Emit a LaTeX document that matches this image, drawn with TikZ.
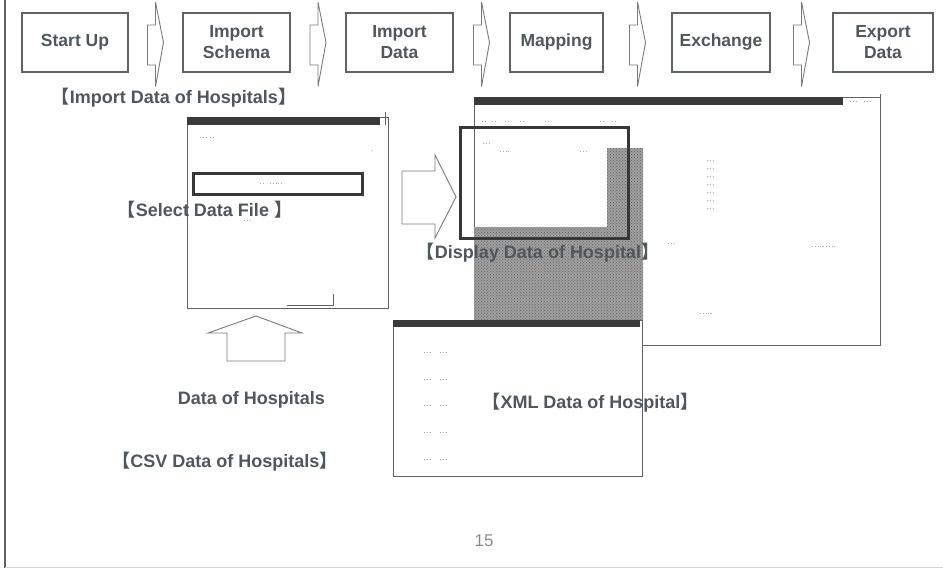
\documentclass[tikz,border=0pt]{standalone}
\usepackage{fontspec}
\setmainfont{Liberation Sans}
\newfontfamily\cjk{Noto Sans CJK JP}
\usetikzlibrary{calc,patterns}
\definecolor{inkGray}{HTML}{4F575C}
\definecolor{lineGray}{HTML}{5E6367}
\definecolor{barGray}{HTML}{3A3A3A}
\newcommand{\lbr}{{\cjk 【}}
\newcommand{\rbr}{{\cjk 】}}
\tikzset{stepBox/.style={
    draw=lineGray,
    line width=1.1,
    minimum height=59,
    align=center,
    text=inkGray,
    font=\fontsize{17.5}{21}\selectfont\bfseries,
    inner sep=2}
}
\tikzset{flowArrow/.style={draw=lineGray!85, line width=0.9, line join=miter}}
\tikzset{labelText/.style={text=inkGray, font=\fontsize{18}{21}\selectfont\bfseries, inner sep=0}}
\tikzset{winBox/.style={draw=lineGray, line width=0.9, fill=white, inner sep=0}}
\tikzset{focusBox/.style={draw=black!78, line width=3}}
\tikzset{smallMark/.style={gray!65, line width=0.9, dash pattern=on 1pt off 1.8pt}}

\begin{document}
\begin{tikzpicture}[x=1pt,y=-1pt]
      \useasboundingbox (0,0) rectangle (943,570);
      % frame of the slide
      \draw[lineGray,line width=2](5,0) -- (5,568);
      \draw[gray!35,line width=1](5,567) -- (943,567);

      % steps
      \node[stepBox,minimum width=106] (startup) at (75,42.5) {Start Up};
      \node[stepBox,minimum width=107] (schema) at (236.5,42.5) {Import\\Schema};
      \node[stepBox,minimum width=107] (impdata) at (399.5,42.5) {Import\\Data};
      \node[stepBox,minimum width=93] (mapping) at (556.5,42.5) {Mapping};
      \node[stepBox,minimum width=98] (exchange) at (721,42.5) {Exchange};
      \node[stepBox,minimum width=100] (export) at (883,42.5) {Export\\Data};

      \foreach \a/\b in {startup/schema,schema/impdata,impdata/mapping,mapping/exchange,exchange/export}
      \draw[flowArrow] ($(\a.east)!0.5!(\b.west)$) ++(-8,-17.5) -- ++(8,0) -- ++(0,-23)
      -- ++(8,40.5) -- ++(-8,44) -- ++(0,-21.5) -- ++(-8,0) -- cycle;

      \node[labelText] (title) at (174,98) {\lbr Import Data of Hospitals\rbr};

      % main window
      \node[winBox,minimum width=406,minimum height=248] (mainwin) at (677,221) {};
      \fill[black!38] (607,148) -- (643,148) -- (643,320) -- (474,320) -- (474,227) -- (607,227) -- cycle;
      \fill[pattern=crosshatch dots,pattern color=black!60] (607,148) -- (643,148) -- (643,320) -- (474,320) -- (474,227) -- (607,227) -- cycle;
      \fill[barGray] (mainwin.north west) rectangle (843,105);
      \draw[lineGray,line width=0.9] (880,94) -- (880,100);
      \draw[smallMark] (850,101) -- ++(6,0) (864,101) -- ++(6,0);
      \foreach \x in {482,492,505,520,545,600,612}
      \draw[smallMark] (\x,121) -- ++(5,0);
      \draw[smallMark] (483,143) -- ++(8,0) (500,151) -- ++(10,0) (580,151) -- ++(8,0);
      \foreach \y in {160,168,176,184,192,200,208}
      \draw[smallMark] (707,\y) -- ++(8,0);
      \draw[smallMark] (668,243) -- ++(8,0) (812,246) -- ++(24,0) (700,313) -- ++(12,0);
      \draw[focusBox] (460,127) rectangle (628,238);

      % dialog
      \node[winBox,minimum width=201,minimum height=191] (dialog) at (287.5,212.5) {};
      \fill[barGray] (dialog.north west) rectangle (380,125);
      \draw[lineGray] (385,112) -- (385,125);
      \draw[smallMark] (200,137) -- ++(6,0) (210,137) -- ++(4,0) (372,150) -- ++(2,0);
      \draw[focusBox] (193,173) rectangle (362,194);
      \draw[smallMark] (260,183) -- ++(4,0) (270,183) -- ++(12,0) (244,220) -- ++(8,0);
      \draw[lineGray,line width=0.8] (287,305) -- (333,305) -- (333,294);

      % xml window
      \node[winBox,minimum width=249,minimum height=156] (xmlwin) at (517.5,398) {};
      \fill[barGray] (xmlwin.north west) rectangle (640,327);
      \foreach \y in {352,379,405,432,459}
      \draw[smallMark] (424,\y) -- ++(6,0) (440,\y) -- ++(8,0);

      % arrows between the pictures
      \draw[flowArrow] (402,171) -- (435,171) -- (435,155) -- (456,197) -- (435,238) -- (435,224) -- (402,224) -- cycle;
      \draw[flowArrow] (227,361) -- (227,333) -- (208,333) -- (256,316) -- (302,333) -- (285,333) -- (285,361) -- cycle;

      \node[labelText] (select) at (205,210) {\lbr Select Data File \rbr};
      \node[labelText] (display) at (538,253) {\lbr Display Data of Hospital\rbr};
      \node[labelText] (source) at (251.5,400) {Data of Hospitals};
      \node[labelText] (csv) at (225,462) {\lbr CSV Data of Hospitals\rbr};
      \node[labelText] (xml) at (590.5,403) {\lbr XML Data of Hospital\rbr};
      \node[text=gray!90,font=\fontsize{17}{20}\selectfont] (page) at (484,541) {15};
\end{tikzpicture}
\end{document}
